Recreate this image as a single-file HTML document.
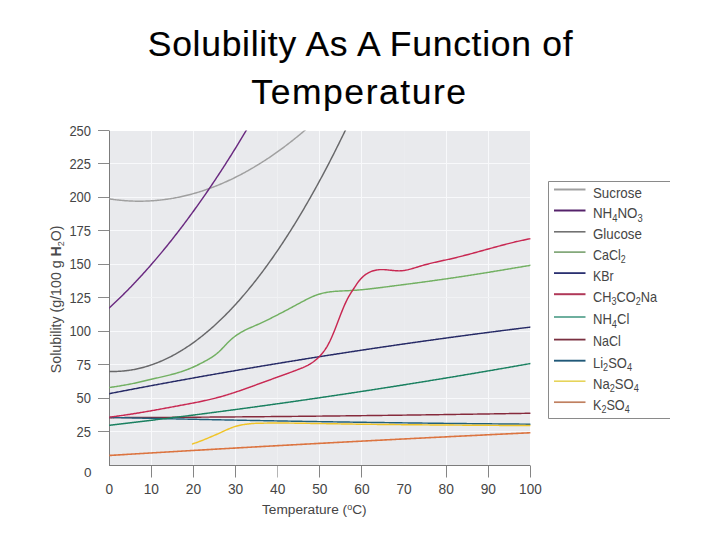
<!DOCTYPE html>
<html><head><meta charset="utf-8"><style>
html,body{margin:0;padding:0;background:#fff;}
body{width:720px;height:540px;position:relative;overflow:hidden;font-family:"Liberation Sans",sans-serif;}
svg{position:absolute;left:0;top:0;}
svg text{font-family:"Liberation Sans",sans-serif;font-size:13.5px;fill:#454545;}
</style></head><body>
<svg width="720" height="540" viewBox="0 0 720 540">
<text x="360.5" y="55.8" text-anchor="middle" style="font-size:35.5px;fill:#000;stroke:#000;stroke-width:0.15px;letter-spacing:0.7px">Solubility As A Function of</text>
<text x="359.5" y="104" text-anchor="middle" style="font-size:35.5px;fill:#000;stroke:#000;stroke-width:0.15px;letter-spacing:1.55px">Temperature</text>
<rect x="109" y="131" width="421" height="334" fill="#e9eaed"/>
<line x1="151.50" y1="131" x2="151.50" y2="465" stroke="#f8f9fb" stroke-width="1"/>
<line x1="193.50" y1="131" x2="193.50" y2="465" stroke="#f8f9fb" stroke-width="1"/>
<line x1="235.50" y1="131" x2="235.50" y2="465" stroke="#f8f9fb" stroke-width="1"/>
<line x1="277.50" y1="131" x2="277.50" y2="465" stroke="#eff0f2" stroke-width="1"/>
<line x1="319.50" y1="131" x2="319.50" y2="465" stroke="#f8f9fb" stroke-width="1"/>
<line x1="361.50" y1="131" x2="361.50" y2="465" stroke="#f8f9fb" stroke-width="1"/>
<line x1="404.50" y1="131" x2="404.50" y2="465" stroke="#ebecef" stroke-width="1"/>
<line x1="446.50" y1="131" x2="446.50" y2="465" stroke="#f8f9fb" stroke-width="1"/>
<line x1="488.50" y1="131" x2="488.50" y2="465" stroke="#f8f9fb" stroke-width="1"/>
<line x1="109" y1="431.50" x2="530" y2="431.50" stroke="#f8f9fb" stroke-width="1"/>
<line x1="109" y1="398.50" x2="530" y2="398.50" stroke="#f8f9fb" stroke-width="1"/>
<line x1="109" y1="364.50" x2="530" y2="364.50" stroke="#f8f9fb" stroke-width="1"/>
<line x1="109" y1="331.50" x2="530" y2="331.50" stroke="#f8f9fb" stroke-width="1"/>
<line x1="109" y1="297.50" x2="530" y2="297.50" stroke="#f1f2f4" stroke-width="1"/>
<line x1="109" y1="264.50" x2="530" y2="264.50" stroke="#f8f9fb" stroke-width="1"/>
<line x1="109" y1="230.50" x2="530" y2="230.50" stroke="#f8f9fb" stroke-width="1"/>
<line x1="109" y1="197.50" x2="530" y2="197.50" stroke="#f8f9fb" stroke-width="1"/>
<line x1="109" y1="163.50" x2="530" y2="163.50" stroke="#f8f9fb" stroke-width="1"/>
<line x1="109.5" y1="130.5" x2="109.5" y2="466" stroke="#7c7c7c" stroke-width="1"/>
<line x1="109" y1="465.5" x2="530.5" y2="465.5" stroke="#7c7c7c" stroke-width="1"/>
<line x1="98" y1="431.50" x2="109" y2="431.50" stroke="#8a8a8a" stroke-width="1"/>
<text x="91" y="436.73" text-anchor="end" style="font-size:14.5px" textLength="14.4" lengthAdjust="spacingAndGlyphs">25</text>
<line x1="98" y1="398.50" x2="109" y2="398.50" stroke="#8a8a8a" stroke-width="1"/>
<text x="91" y="403.26" text-anchor="end" style="font-size:14.5px" textLength="14.4" lengthAdjust="spacingAndGlyphs">50</text>
<line x1="98" y1="364.50" x2="109" y2="364.50" stroke="#8a8a8a" stroke-width="1"/>
<text x="91" y="369.79" text-anchor="end" style="font-size:14.5px" textLength="14.4" lengthAdjust="spacingAndGlyphs">75</text>
<line x1="98" y1="331.50" x2="109" y2="331.50" stroke="#8a8a8a" stroke-width="1"/>
<text x="91" y="336.32" text-anchor="end" style="font-size:14.5px" textLength="21.6" lengthAdjust="spacingAndGlyphs">100</text>
<line x1="98" y1="297.50" x2="109" y2="297.50" stroke="#8a8a8a" stroke-width="1"/>
<text x="91" y="302.85" text-anchor="end" style="font-size:14.5px" textLength="21.6" lengthAdjust="spacingAndGlyphs">125</text>
<line x1="98" y1="264.50" x2="109" y2="264.50" stroke="#8a8a8a" stroke-width="1"/>
<text x="91" y="269.38" text-anchor="end" style="font-size:14.5px" textLength="21.6" lengthAdjust="spacingAndGlyphs">150</text>
<line x1="98" y1="230.50" x2="109" y2="230.50" stroke="#8a8a8a" stroke-width="1"/>
<text x="91" y="235.91" text-anchor="end" style="font-size:14.5px" textLength="21.6" lengthAdjust="spacingAndGlyphs">175</text>
<line x1="98" y1="197.50" x2="109" y2="197.50" stroke="#8a8a8a" stroke-width="1"/>
<text x="91" y="202.44" text-anchor="end" style="font-size:14.5px" textLength="21.6" lengthAdjust="spacingAndGlyphs">200</text>
<line x1="98" y1="163.50" x2="109" y2="163.50" stroke="#8a8a8a" stroke-width="1"/>
<text x="91" y="168.97" text-anchor="end" style="font-size:14.5px" textLength="21.6" lengthAdjust="spacingAndGlyphs">225</text>
<line x1="98" y1="130.50" x2="109" y2="130.50" stroke="#8a8a8a" stroke-width="1"/>
<text x="91" y="135.50" text-anchor="end" style="font-size:14.5px" textLength="21.6" lengthAdjust="spacingAndGlyphs">250</text>
<text x="91.5" y="476.8" text-anchor="end">0</text>
<text x="109.20" y="494.0" text-anchor="middle" style="font-size:14px" textLength="7.6" lengthAdjust="spacingAndGlyphs">0</text>
<line x1="151.50" y1="466" x2="151.50" y2="477.5" stroke="#858585" stroke-width="1"/>
<text x="151.32" y="494.0" text-anchor="middle" style="font-size:14px" textLength="15.3" lengthAdjust="spacingAndGlyphs">10</text>
<line x1="193.50" y1="466" x2="193.50" y2="477.5" stroke="#858585" stroke-width="1"/>
<text x="193.44" y="494.0" text-anchor="middle" style="font-size:14px" textLength="15.3" lengthAdjust="spacingAndGlyphs">20</text>
<line x1="235.50" y1="466" x2="235.50" y2="477.5" stroke="#858585" stroke-width="1"/>
<text x="235.56" y="494.0" text-anchor="middle" style="font-size:14px" textLength="15.3" lengthAdjust="spacingAndGlyphs">30</text>
<line x1="277.50" y1="466" x2="277.50" y2="477.5" stroke="#b5b5b5" stroke-width="1"/>
<text x="277.68" y="494.0" text-anchor="middle" style="font-size:14px" textLength="15.3" lengthAdjust="spacingAndGlyphs">40</text>
<line x1="319.50" y1="466" x2="319.50" y2="477.5" stroke="#858585" stroke-width="1"/>
<text x="319.80" y="494.0" text-anchor="middle" style="font-size:14px" textLength="15.3" lengthAdjust="spacingAndGlyphs">50</text>
<line x1="361.50" y1="466" x2="361.50" y2="477.5" stroke="#858585" stroke-width="1"/>
<text x="361.92" y="494.0" text-anchor="middle" style="font-size:14px" textLength="15.3" lengthAdjust="spacingAndGlyphs">60</text>
<text x="404.04" y="494.0" text-anchor="middle" style="font-size:14px" textLength="15.3" lengthAdjust="spacingAndGlyphs">70</text>
<line x1="446.50" y1="466" x2="446.50" y2="477.5" stroke="#858585" stroke-width="1"/>
<text x="446.16" y="494.0" text-anchor="middle" style="font-size:14px" textLength="15.3" lengthAdjust="spacingAndGlyphs">80</text>
<line x1="488.50" y1="466" x2="488.50" y2="477.5" stroke="#858585" stroke-width="1"/>
<text x="488.28" y="494.0" text-anchor="middle" style="font-size:14px" textLength="15.3" lengthAdjust="spacingAndGlyphs">90</text>
<line x1="530.50" y1="466" x2="530.50" y2="477.5" stroke="#858585" stroke-width="1"/>
<text x="530.40" y="494.0" text-anchor="middle" style="font-size:14px" textLength="22.6" lengthAdjust="spacingAndGlyphs">100</text>
<text x="314.3" y="513.7" text-anchor="middle" style="font-size:13.7px">Temperature (<tspan font-size="9" dy="-4">o</tspan><tspan dy="4">C)</tspan></text>
<text transform="translate(61.0,299.3) rotate(-90)" text-anchor="middle" style="font-size:14.2px;fill:#4a4a4a">Solubility (g/100 g <tspan font-weight="bold">H</tspan><tspan font-size="9" dy="3">2</tspan><tspan dy="-3">O)</tspan></text>
<clipPath id="pc"><rect x="109.20" y="130.50" width="421.20" height="334.70"/></clipPath>
<g clip-path="url(#pc)" fill="none" stroke-linejoin="round" stroke-linecap="round">
<path d="M109.20,198.85 L110.25,199.01 L111.31,199.16 L112.36,199.31 L113.41,199.46 L114.47,199.60 L115.52,199.73 L116.57,199.86 L117.62,199.98 L118.68,200.09 L119.73,200.20 L120.78,200.30 L121.84,200.40 L122.89,200.50 L123.94,200.58 L125.00,200.66 L126.05,200.74 L127.10,200.81 L128.15,200.87 L129.21,200.93 L130.26,200.98 L131.31,201.03 L132.37,201.07 L133.42,201.10 L134.47,201.13 L135.53,201.16 L136.58,201.17 L137.63,201.19 L138.68,201.19 L139.74,201.19 L140.79,201.19 L141.84,201.18 L142.90,201.16 L143.95,201.14 L145.00,201.11 L146.06,201.08 L147.11,201.04 L148.16,200.99 L149.21,200.94 L150.27,200.88 L151.32,200.82 L152.37,200.75 L153.43,200.68 L154.48,200.60 L155.53,200.51 L156.59,200.42 L157.64,200.32 L158.69,200.22 L159.74,200.11 L160.80,200.00 L161.85,199.88 L162.90,199.75 L163.96,199.62 L165.01,199.49 L166.06,199.34 L167.12,199.19 L168.17,199.04 L169.22,198.88 L170.27,198.71 L171.33,198.54 L172.38,198.37 L173.43,198.18 L174.49,197.99 L175.54,197.80 L176.59,197.60 L177.64,197.39 L178.70,197.18 L179.75,196.96 L180.80,196.74 L181.86,196.51 L182.91,196.28 L183.96,196.04 L185.02,195.79 L186.07,195.54 L187.12,195.28 L188.18,195.02 L189.23,194.75 L190.28,194.48 L191.33,194.20 L192.39,193.91 L193.44,193.62 L194.49,193.32 L195.55,193.02 L196.60,192.71 L197.65,192.39 L198.70,192.07 L199.76,191.75 L200.81,191.41 L201.86,191.08 L202.92,190.73 L203.97,190.38 L205.02,190.03 L206.08,189.67 L207.13,189.30 L208.18,188.93 L209.24,188.55 L210.29,188.17 L211.34,187.78 L212.39,187.38 L213.45,186.98 L214.50,186.57 L215.55,186.16 L216.61,185.74 L217.66,185.32 L218.71,184.89 L219.76,184.46 L220.82,184.01 L221.87,183.57 L222.92,183.12 L223.98,182.66 L225.03,182.19 L226.08,181.72 L227.14,181.25 L228.19,180.77 L229.24,180.28 L230.30,179.79 L231.35,179.29 L232.40,178.79 L233.45,178.28 L234.51,177.76 L235.56,177.24 L236.61,176.71 L237.67,176.18 L238.72,175.64 L239.77,175.10 L240.82,174.55 L241.88,173.99 L242.93,173.43 L243.98,172.86 L245.04,172.29 L246.09,171.71 L247.14,171.13 L248.20,170.54 L249.25,169.94 L250.30,169.34 L251.36,168.73 L252.41,168.12 L253.46,167.50 L254.51,166.87 L255.57,166.24 L256.62,165.61 L257.67,164.97 L258.73,164.32 L259.78,163.67 L260.83,163.01 L261.88,162.34 L262.94,161.67 L263.99,161.00 L265.04,160.31 L266.10,159.63 L267.15,158.93 L268.20,158.23 L269.26,157.53 L270.31,156.82 L271.36,156.10 L272.42,155.38 L273.47,154.65 L274.52,153.92 L275.57,153.18 L276.63,152.44 L277.68,151.68 L278.73,150.93 L279.79,150.17 L280.84,149.40 L281.89,148.62 L282.94,147.84 L284.00,147.06 L285.05,146.27 L286.10,145.47 L287.16,144.67 L288.21,143.86 L289.26,143.05 L290.32,142.23 L291.37,141.40 L292.42,140.57 L293.48,139.74 L294.53,138.89 L295.58,138.05 L296.63,137.19 L297.69,136.33 L298.74,135.47 L299.79,134.60 L300.85,133.72 L301.90,132.84 L302.95,131.95 L304.00,131.05 L305.06,130.15 L306.11,129.25 L307.16,128.34 L308.22,127.42 L309.27,126.50 L310.32,125.57 L311.38,124.63 L312.43,123.69 L313.48,122.75 L314.54,121.80 L315.59,120.84 L316.64,119.88 L317.69,118.91 L318.75,117.93 L319.80,116.95" stroke="#a0a0a0" stroke-width="1.45"/>
<path d="M109.20,307.97 L110.25,307.01 L111.31,306.03 L112.36,305.06 L113.41,304.07 L114.47,303.08 L115.52,302.08 L116.57,301.08 L117.62,300.07 L118.68,299.06 L119.73,298.03 L120.78,297.01 L121.84,295.97 L122.89,294.93 L123.94,293.89 L125.00,292.83 L126.05,291.77 L127.10,290.71 L128.15,289.64 L129.21,288.56 L130.26,287.48 L131.31,286.39 L132.37,285.29 L133.42,284.19 L134.47,283.08 L135.53,281.97 L136.58,280.85 L137.63,279.72 L138.68,278.59 L139.74,277.45 L140.79,276.31 L141.84,275.16 L142.90,274.00 L143.95,272.84 L145.00,271.67 L146.06,270.49 L147.11,269.31 L148.16,268.12 L149.21,266.93 L150.27,265.73 L151.32,264.52 L152.37,263.31 L153.43,262.09 L154.48,260.86 L155.53,259.63 L156.59,258.40 L157.64,257.15 L158.69,255.90 L159.74,254.65 L160.80,253.39 L161.85,252.12 L162.90,250.84 L163.96,249.56 L165.01,248.28 L166.06,246.98 L167.12,245.68 L168.17,244.38 L169.22,243.07 L170.27,241.75 L171.33,240.43 L172.38,239.10 L173.43,237.76 L174.49,236.42 L175.54,235.07 L176.59,233.72 L177.64,232.36 L178.70,230.99 L179.75,229.62 L180.80,228.24 L181.86,226.85 L182.91,225.46 L183.96,224.07 L185.02,222.66 L186.07,221.25 L187.12,219.84 L188.18,218.42 L189.23,216.99 L190.28,215.55 L191.33,214.11 L192.39,212.67 L193.44,211.21 L194.49,209.75 L195.55,208.29 L196.60,206.82 L197.65,205.34 L198.70,203.86 L199.76,202.37 L200.81,200.87 L201.86,199.37 L202.92,197.86 L203.97,196.35 L205.02,194.83 L206.08,193.30 L207.13,191.77 L208.18,190.23 L209.24,188.68 L210.29,187.13 L211.34,185.57 L212.39,184.01 L213.45,182.44 L214.50,180.86 L215.55,179.28 L216.61,177.69 L217.66,176.10 L218.71,174.50 L219.76,172.89 L220.82,171.28 L221.87,169.66 L222.92,168.03 L223.98,166.40 L225.03,164.77 L226.08,163.12 L227.14,161.47 L228.19,159.82 L229.24,158.15 L230.30,156.49 L231.35,154.81 L232.40,153.13 L233.45,151.44 L234.51,149.75 L235.56,148.05 L236.61,146.35 L237.67,144.64 L238.72,142.92 L239.77,141.19 L240.82,139.46 L241.88,137.73 L242.93,135.99 L243.98,134.24 L245.04,132.48 L246.09,130.72 L247.14,128.95 L248.20,127.18 L249.25,125.40 L250.30,123.62 L251.36,121.83 L252.41,120.03 L253.46,118.22 L254.51,116.41 L255.57,114.60 L256.62,112.78" stroke="#6a2a80" stroke-width="1.45"/>
<path d="M109.20,371.41 L110.25,371.44 L111.31,371.46 L112.36,371.48 L113.41,371.48 L114.47,371.47 L115.52,371.45 L116.57,371.42 L117.62,371.38 L118.68,371.34 L119.73,371.28 L120.78,371.21 L121.84,371.13 L122.89,371.04 L123.94,370.95 L125.00,370.84 L126.05,370.72 L127.10,370.59 L128.15,370.46 L129.21,370.31 L130.26,370.15 L131.31,369.99 L132.37,369.81 L133.42,369.62 L134.47,369.42 L135.53,369.22 L136.58,369.00 L137.63,368.78 L138.68,368.54 L139.74,368.29 L140.79,368.04 L141.84,367.77 L142.90,367.49 L143.95,367.21 L145.00,366.91 L146.06,366.61 L147.11,366.29 L148.16,365.97 L149.21,365.63 L150.27,365.28 L151.32,364.93 L152.37,364.56 L153.43,364.19 L154.48,363.80 L155.53,363.41 L156.59,363.00 L157.64,362.59 L158.69,362.16 L159.74,361.73 L160.80,361.29 L161.85,360.83 L162.90,360.37 L163.96,359.89 L165.01,359.41 L166.06,358.91 L167.12,358.41 L168.17,357.90 L169.22,357.37 L170.27,356.84 L171.33,356.30 L172.38,355.74 L173.43,355.18 L174.49,354.61 L175.54,354.02 L176.59,353.43 L177.64,352.83 L178.70,352.21 L179.75,351.59 L180.80,350.96 L181.86,350.32 L182.91,349.66 L183.96,349.00 L185.02,348.33 L186.07,347.65 L187.12,346.95 L188.18,346.25 L189.23,345.54 L190.28,344.82 L191.33,344.09 L192.39,343.34 L193.44,342.59 L194.49,341.83 L195.55,341.06 L196.60,340.28 L197.65,339.49 L198.70,338.68 L199.76,337.87 L200.81,337.05 L201.86,336.22 L202.92,335.38 L203.97,334.53 L205.02,333.67 L206.08,332.80 L207.13,331.92 L208.18,331.03 L209.24,330.13 L210.29,329.22 L211.34,328.30 L212.39,327.37 L213.45,326.43 L214.50,325.48 L215.55,324.52 L216.61,323.55 L217.66,322.57 L218.71,321.58 L219.76,320.58 L220.82,319.57 L221.87,318.55 L222.92,317.52 L223.98,316.48 L225.03,315.43 L226.08,314.38 L227.14,313.31 L228.19,312.23 L229.24,311.14 L230.30,310.04 L231.35,308.93 L232.40,307.81 L233.45,306.69 L234.51,305.55 L235.56,304.40 L236.61,303.24 L237.67,302.07 L238.72,300.90 L239.77,299.71 L240.82,298.51 L241.88,297.30 L242.93,296.09 L243.98,294.86 L245.04,293.62 L246.09,292.37 L247.14,291.12 L248.20,289.85 L249.25,288.57 L250.30,287.29 L251.36,285.99 L252.41,284.68 L253.46,283.37 L254.51,282.04 L255.57,280.70 L256.62,279.36 L257.67,278.00 L258.73,276.64 L259.78,275.26 L260.83,273.87 L261.88,272.48 L262.94,271.07 L263.99,269.66 L265.04,268.23 L266.10,266.80 L267.15,265.35 L268.20,263.89 L269.26,262.43 L270.31,260.95 L271.36,259.47 L272.42,257.97 L273.47,256.47 L274.52,254.96 L275.57,253.43 L276.63,251.90 L277.68,250.35 L278.73,248.80 L279.79,247.23 L280.84,245.66 L281.89,244.08 L282.94,242.48 L284.00,240.88 L285.05,239.26 L286.10,237.64 L287.16,236.01 L288.21,234.36 L289.26,232.71 L290.32,231.05 L291.37,229.37 L292.42,227.69 L293.48,226.00 L294.53,224.29 L295.58,222.58 L296.63,220.86 L297.69,219.12 L298.74,217.38 L299.79,215.63 L300.85,213.87 L301.90,212.10 L302.95,210.31 L304.00,208.52 L305.06,206.72 L306.11,204.91 L307.16,203.08 L308.22,201.25 L309.27,199.41 L310.32,197.56 L311.38,195.70 L312.43,193.83 L313.48,191.95 L314.54,190.05 L315.59,188.15 L316.64,186.24 L317.69,184.32 L318.75,182.39 L319.80,180.45 L320.85,178.50 L321.91,176.54 L322.96,174.57 L324.01,172.59 L325.06,170.60 L326.12,168.60 L327.17,166.59 L328.22,164.57 L329.28,162.54 L330.33,160.50 L331.38,158.45 L332.44,156.39 L333.49,154.32 L334.54,152.24 L335.60,150.15 L336.65,148.05 L337.70,145.94 L338.75,143.82 L339.81,141.69 L340.86,139.55 L341.91,137.40 L342.97,135.24 L344.02,133.08 L345.07,130.90 L346.12,128.71 L347.18,126.51 L348.23,124.30 L349.28,122.08 L350.34,119.86 L351.39,117.62 L352.44,115.37 L353.50,113.11 L354.55,110.84 L355.60,108.57 L356.66,106.28 L357.71,103.98 L358.76,101.67 L359.81,99.36 L360.87,97.03 L361.92,94.69" stroke="#68686a" stroke-width="1.45"/>
<path d="M109.20,387.56 L110.25,387.40 L111.31,387.24 L112.36,387.08 L113.41,386.92 L114.47,386.76 L115.52,386.60 L116.57,386.44 L117.62,386.27 L118.68,386.10 L119.73,385.93 L120.78,385.76 L121.84,385.59 L122.89,385.41 L123.94,385.23 L125.00,385.04 L126.05,384.85 L127.10,384.66 L128.15,384.46 L129.21,384.26 L130.26,384.05 L131.31,383.84 L132.37,383.62 L133.42,383.40 L134.47,383.17 L135.53,382.94 L136.58,382.70 L137.63,382.47 L138.68,382.23 L139.74,381.99 L140.79,381.74 L141.84,381.50 L142.90,381.25 L143.95,381.00 L145.00,380.75 L146.06,380.51 L147.11,380.26 L148.16,380.01 L149.21,379.76 L150.27,379.52 L151.32,379.27 L152.37,379.03 L153.43,378.79 L154.48,378.55 L155.53,378.31 L156.59,378.07 L157.64,377.84 L158.69,377.60 L159.74,377.36 L160.80,377.12 L161.85,376.88 L162.90,376.63 L163.96,376.39 L165.01,376.14 L166.06,375.89 L167.12,375.63 L168.17,375.38 L169.22,375.11 L170.27,374.85 L171.33,374.57 L172.38,374.30 L173.43,374.01 L174.49,373.73 L175.54,373.43 L176.59,373.13 L177.64,372.82 L178.70,372.50 L179.75,372.17 L180.80,371.84 L181.86,371.50 L182.91,371.14 L183.96,370.78 L185.02,370.40 L186.07,370.02 L187.12,369.62 L188.18,369.21 L189.23,368.79 L190.28,368.36 L191.33,367.92 L192.39,367.47 L193.44,367.00 L194.49,366.52 L195.55,366.03 L196.60,365.53 L197.65,365.02 L198.70,364.49 L199.76,363.96 L200.81,363.42 L201.86,362.87 L202.92,362.32 L203.97,361.75 L205.02,361.19 L206.08,360.62 L207.13,360.04 L208.18,359.45 L209.24,358.84 L210.29,358.21 L211.34,357.56 L212.39,356.88 L213.45,356.16 L214.50,355.41 L215.55,354.61 L216.61,353.77 L217.66,352.88 L218.71,351.95 L219.76,350.97 L220.82,349.94 L221.87,348.88 L222.92,347.78 L223.98,346.66 L225.03,345.54 L226.08,344.43 L227.14,343.34 L228.19,342.27 L229.24,341.23 L230.30,340.24 L231.35,339.29 L232.40,338.38 L233.45,337.53 L234.51,336.71 L235.56,335.93 L236.61,335.18 L237.67,334.47 L238.72,333.79 L239.77,333.13 L240.82,332.49 L241.88,331.88 L242.93,331.30 L243.98,330.73 L245.04,330.19 L246.09,329.67 L247.14,329.16 L248.20,328.67 L249.25,328.19 L250.30,327.72 L251.36,327.26 L252.41,326.81 L253.46,326.35 L254.51,325.89 L255.57,325.44 L256.62,324.98 L257.67,324.51 L258.73,324.04 L259.78,323.57 L260.83,323.09 L261.88,322.60 L262.94,322.12 L263.99,321.62 L265.04,321.12 L266.10,320.61 L267.15,320.10 L268.20,319.58 L269.26,319.06 L270.31,318.53 L271.36,318.00 L272.42,317.47 L273.47,316.94 L274.52,316.40 L275.57,315.86 L276.63,315.32 L277.68,314.78 L278.73,314.23 L279.79,313.69 L280.84,313.14 L281.89,312.59 L282.94,312.04 L284.00,311.49 L285.05,310.94 L286.10,310.38 L287.16,309.83 L288.21,309.27 L289.26,308.71 L290.32,308.14 L291.37,307.58 L292.42,307.01 L293.48,306.44 L294.53,305.87 L295.58,305.30 L296.63,304.73 L297.69,304.16 L298.74,303.60 L299.79,303.03 L300.85,302.46 L301.90,301.90 L302.95,301.34 L304.00,300.79 L305.06,300.24 L306.11,299.70 L307.16,299.17 L308.22,298.64 L309.27,298.13 L310.32,297.63 L311.38,297.14 L312.43,296.68 L313.48,296.22 L314.54,295.79 L315.59,295.38 L316.64,295.00 L317.69,294.64 L318.75,294.30 L319.80,293.98 L320.85,293.68 L321.91,293.40 L322.96,293.14 L324.01,292.90 L325.06,292.68 L326.12,292.48 L327.17,292.29 L328.22,292.12 L329.28,291.97 L330.33,291.83 L331.38,291.71 L332.44,291.60 L333.49,291.49 L334.54,291.40 L335.60,291.32 L336.65,291.24 L337.70,291.17 L338.75,291.11 L339.81,291.05 L340.86,290.99 L341.91,290.94 L342.97,290.89 L344.02,290.85 L345.07,290.80 L346.12,290.75 L347.18,290.71 L348.23,290.66 L349.28,290.61 L350.34,290.56 L351.39,290.50 L352.44,290.44 L353.50,290.38 L354.55,290.31 L355.60,290.24 L356.66,290.16 L357.71,290.08 L358.76,289.99 L359.81,289.90 L360.87,289.81 L361.92,289.71 L362.97,289.61 L364.03,289.51 L365.08,289.40 L366.13,289.29 L367.19,289.18 L368.24,289.07 L369.29,288.95 L370.34,288.83 L371.40,288.71 L372.45,288.59 L373.50,288.47 L374.56,288.34 L375.61,288.21 L376.66,288.08 L377.71,287.95 L378.77,287.82 L379.82,287.69 L380.87,287.55 L381.93,287.42 L382.98,287.29 L384.03,287.15 L385.09,287.01 L386.14,286.88 L387.19,286.74 L388.25,286.61 L389.30,286.47 L390.35,286.33 L391.40,286.20 L392.46,286.06 L393.51,285.93 L394.56,285.79 L395.62,285.65 L396.67,285.52 L397.72,285.38 L398.77,285.25 L399.83,285.11 L400.88,284.97 L401.93,284.84 L402.99,284.70 L404.04,284.56 L405.09,284.43 L406.15,284.29 L407.20,284.15 L408.25,284.01 L409.31,283.88 L410.36,283.74 L411.41,283.60 L412.46,283.46 L413.52,283.32 L414.57,283.19 L415.62,283.05 L416.68,282.91 L417.73,282.77 L418.78,282.63 L419.83,282.49 L420.89,282.35 L421.94,282.21 L422.99,282.07 L424.05,281.92 L425.10,281.78 L426.15,281.64 L427.21,281.50 L428.26,281.35 L429.31,281.21 L430.37,281.07 L431.42,280.92 L432.47,280.78 L433.52,280.63 L434.58,280.49 L435.63,280.34 L436.68,280.19 L437.74,280.05 L438.79,279.90 L439.84,279.75 L440.89,279.60 L441.95,279.45 L443.00,279.31 L444.05,279.15 L445.11,279.00 L446.16,278.85 L447.21,278.70 L448.27,278.55 L449.32,278.40 L450.37,278.24 L451.43,278.09 L452.48,277.93 L453.53,277.78 L454.58,277.62 L455.64,277.46 L456.69,277.31 L457.74,277.15 L458.80,276.99 L459.85,276.83 L460.90,276.67 L461.95,276.51 L463.01,276.35 L464.06,276.19 L465.11,276.03 L466.17,275.86 L467.22,275.70 L468.27,275.54 L469.33,275.37 L470.38,275.21 L471.43,275.04 L472.49,274.88 L473.54,274.71 L474.59,274.55 L475.64,274.38 L476.70,274.21 L477.75,274.05 L478.80,273.88 L479.86,273.71 L480.91,273.54 L481.96,273.37 L483.01,273.20 L484.07,273.03 L485.12,272.86 L486.17,272.69 L487.23,272.52 L488.28,272.35 L489.33,272.18 L490.39,272.01 L491.44,271.83 L492.49,271.66 L493.55,271.49 L494.60,271.32 L495.65,271.14 L496.70,270.97 L497.76,270.80 L498.81,270.62 L499.86,270.45 L500.92,270.27 L501.97,270.10 L503.02,269.92 L504.07,269.75 L505.13,269.57 L506.18,269.40 L507.23,269.22 L508.29,269.04 L509.34,268.87 L510.39,268.69 L511.45,268.51 L512.50,268.34 L513.55,268.16 L514.61,267.98 L515.66,267.81 L516.71,267.63 L517.76,267.45 L518.82,267.27 L519.87,267.10 L520.92,266.92 L521.98,266.74 L523.03,266.56 L524.08,266.39 L525.13,266.21 L526.19,266.03 L527.24,265.85 L528.29,265.67 L529.35,265.50 L530.40,265.32" stroke="#72b062" stroke-width="1.45"/>
<path d="M109.20,393.67 L110.25,393.46 L111.31,393.26 L112.36,393.06 L113.41,392.85 L114.47,392.65 L115.52,392.45 L116.57,392.24 L117.62,392.04 L118.68,391.84 L119.73,391.64 L120.78,391.44 L121.84,391.23 L122.89,391.03 L123.94,390.83 L125.00,390.63 L126.05,390.43 L127.10,390.23 L128.15,390.03 L129.21,389.83 L130.26,389.63 L131.31,389.43 L132.37,389.23 L133.42,389.03 L134.47,388.83 L135.53,388.63 L136.58,388.43 L137.63,388.23 L138.68,388.03 L139.74,387.83 L140.79,387.64 L141.84,387.44 L142.90,387.24 L143.95,387.04 L145.00,386.84 L146.06,386.65 L147.11,386.45 L148.16,386.25 L149.21,386.06 L150.27,385.86 L151.32,385.66 L152.37,385.47 L153.43,385.27 L154.48,385.07 L155.53,384.88 L156.59,384.68 L157.64,384.49 L158.69,384.29 L159.74,384.10 L160.80,383.90 L161.85,383.71 L162.90,383.51 L163.96,383.32 L165.01,383.13 L166.06,382.93 L167.12,382.74 L168.17,382.54 L169.22,382.35 L170.27,382.16 L171.33,381.97 L172.38,381.77 L173.43,381.58 L174.49,381.39 L175.54,381.20 L176.59,381.00 L177.64,380.81 L178.70,380.62 L179.75,380.43 L180.80,380.24 L181.86,380.05 L182.91,379.86 L183.96,379.67 L185.02,379.48 L186.07,379.29 L187.12,379.10 L188.18,378.91 L189.23,378.72 L190.28,378.53 L191.33,378.34 L192.39,378.15 L193.44,377.96 L194.49,377.77 L195.55,377.58 L196.60,377.39 L197.65,377.20 L198.70,377.02 L199.76,376.83 L200.81,376.64 L201.86,376.45 L202.92,376.27 L203.97,376.08 L205.02,375.89 L206.08,375.71 L207.13,375.52 L208.18,375.33 L209.24,375.15 L210.29,374.96 L211.34,374.78 L212.39,374.59 L213.45,374.40 L214.50,374.22 L215.55,374.03 L216.61,373.85 L217.66,373.66 L218.71,373.48 L219.76,373.30 L220.82,373.11 L221.87,372.93 L222.92,372.74 L223.98,372.56 L225.03,372.38 L226.08,372.19 L227.14,372.01 L228.19,371.83 L229.24,371.65 L230.30,371.46 L231.35,371.28 L232.40,371.10 L233.45,370.92 L234.51,370.74 L235.56,370.55 L236.61,370.37 L237.67,370.19 L238.72,370.01 L239.77,369.83 L240.82,369.65 L241.88,369.47 L242.93,369.29 L243.98,369.11 L245.04,368.93 L246.09,368.75 L247.14,368.57 L248.20,368.39 L249.25,368.21 L250.30,368.03 L251.36,367.85 L252.41,367.68 L253.46,367.50 L254.51,367.32 L255.57,367.14 L256.62,366.96 L257.67,366.79 L258.73,366.61 L259.78,366.43 L260.83,366.25 L261.88,366.08 L262.94,365.90 L263.99,365.73 L265.04,365.55 L266.10,365.37 L267.15,365.20 L268.20,365.02 L269.26,364.85 L270.31,364.67 L271.36,364.50 L272.42,364.32 L273.47,364.15 L274.52,363.97 L275.57,363.80 L276.63,363.62 L277.68,363.45 L278.73,363.27 L279.79,363.10 L280.84,362.93 L281.89,362.75 L282.94,362.58 L284.00,362.41 L285.05,362.24 L286.10,362.06 L287.16,361.89 L288.21,361.72 L289.26,361.55 L290.32,361.38 L291.37,361.20 L292.42,361.03 L293.48,360.86 L294.53,360.69 L295.58,360.52 L296.63,360.35 L297.69,360.18 L298.74,360.01 L299.79,359.84 L300.85,359.67 L301.90,359.50 L302.95,359.33 L304.00,359.16 L305.06,358.99 L306.11,358.82 L307.16,358.65 L308.22,358.48 L309.27,358.32 L310.32,358.15 L311.38,357.98 L312.43,357.81 L313.48,357.64 L314.54,357.48 L315.59,357.31 L316.64,357.14 L317.69,356.98 L318.75,356.81 L319.80,356.64 L320.85,356.48 L321.91,356.31 L322.96,356.14 L324.01,355.98 L325.06,355.81 L326.12,355.65 L327.17,355.48 L328.22,355.32 L329.28,355.15 L330.33,354.99 L331.38,354.82 L332.44,354.66 L333.49,354.50 L334.54,354.33 L335.60,354.17 L336.65,354.00 L337.70,353.84 L338.75,353.68 L339.81,353.51 L340.86,353.35 L341.91,353.19 L342.97,353.03 L344.02,352.87 L345.07,352.70 L346.12,352.54 L347.18,352.38 L348.23,352.22 L349.28,352.06 L350.34,351.90 L351.39,351.73 L352.44,351.57 L353.50,351.41 L354.55,351.25 L355.60,351.09 L356.66,350.93 L357.71,350.77 L358.76,350.61 L359.81,350.45 L360.87,350.30 L361.92,350.14 L362.97,349.98 L364.03,349.82 L365.08,349.66 L366.13,349.50 L367.19,349.34 L368.24,349.19 L369.29,349.03 L370.34,348.87 L371.40,348.71 L372.45,348.56 L373.50,348.40 L374.56,348.24 L375.61,348.09 L376.66,347.93 L377.71,347.77 L378.77,347.62 L379.82,347.46 L380.87,347.31 L381.93,347.15 L382.98,347.00 L384.03,346.84 L385.09,346.69 L386.14,346.53 L387.19,346.38 L388.25,346.22 L389.30,346.07 L390.35,345.91 L391.40,345.76 L392.46,345.61 L393.51,345.45 L394.56,345.30 L395.62,345.15 L396.67,344.99 L397.72,344.84 L398.77,344.69 L399.83,344.54 L400.88,344.38 L401.93,344.23 L402.99,344.08 L404.04,343.93 L405.09,343.78 L406.15,343.63 L407.20,343.48 L408.25,343.32 L409.31,343.17 L410.36,343.02 L411.41,342.87 L412.46,342.72 L413.52,342.57 L414.57,342.42 L415.62,342.27 L416.68,342.13 L417.73,341.98 L418.78,341.83 L419.83,341.68 L420.89,341.53 L421.94,341.38 L422.99,341.23 L424.05,341.09 L425.10,340.94 L426.15,340.79 L427.21,340.64 L428.26,340.50 L429.31,340.35 L430.37,340.20 L431.42,340.06 L432.47,339.91 L433.52,339.76 L434.58,339.62 L435.63,339.47 L436.68,339.32 L437.74,339.18 L438.79,339.03 L439.84,338.89 L440.89,338.74 L441.95,338.60 L443.00,338.45 L444.05,338.31 L445.11,338.17 L446.16,338.02 L447.21,337.88 L448.27,337.73 L449.32,337.59 L450.37,337.45 L451.43,337.30 L452.48,337.16 L453.53,337.02 L454.58,336.88 L455.64,336.73 L456.69,336.59 L457.74,336.45 L458.80,336.31 L459.85,336.17 L460.90,336.02 L461.95,335.88 L463.01,335.74 L464.06,335.60 L465.11,335.46 L466.17,335.32 L467.22,335.18 L468.27,335.04 L469.33,334.90 L470.38,334.76 L471.43,334.62 L472.49,334.48 L473.54,334.34 L474.59,334.20 L475.64,334.06 L476.70,333.93 L477.75,333.79 L478.80,333.65 L479.86,333.51 L480.91,333.37 L481.96,333.24 L483.01,333.10 L484.07,332.96 L485.12,332.82 L486.17,332.69 L487.23,332.55 L488.28,332.41 L489.33,332.28 L490.39,332.14 L491.44,332.00 L492.49,331.87 L493.55,331.73 L494.60,331.60 L495.65,331.46 L496.70,331.33 L497.76,331.19 L498.81,331.06 L499.86,330.92 L500.92,330.79 L501.97,330.65 L503.02,330.52 L504.07,330.39 L505.13,330.25 L506.18,330.12 L507.23,329.99 L508.29,329.85 L509.34,329.72 L510.39,329.59 L511.45,329.46 L512.50,329.32 L513.55,329.19 L514.61,329.06 L515.66,328.93 L516.71,328.80 L517.76,328.67 L518.82,328.53 L519.87,328.40 L520.92,328.27 L521.98,328.14 L523.03,328.01 L524.08,327.88 L525.13,327.75 L526.19,327.62 L527.24,327.49 L528.29,327.36 L529.35,327.23 L530.40,327.10" stroke="#262a66" stroke-width="1.45"/>
<path d="M109.20,417.66 L110.25,417.66 L111.31,417.66 L112.36,417.65 L113.41,417.65 L114.47,417.64 L115.52,417.64 L116.57,417.63 L117.62,417.63 L118.68,417.62 L119.73,417.62 L120.78,417.61 L121.84,417.61 L122.89,417.60 L123.94,417.60 L125.00,417.59 L126.05,417.59 L127.10,417.58 L128.15,417.58 L129.21,417.57 L130.26,417.57 L131.31,417.56 L132.37,417.56 L133.42,417.55 L134.47,417.55 L135.53,417.54 L136.58,417.54 L137.63,417.53 L138.68,417.53 L139.74,417.52 L140.79,417.52 L141.84,417.51 L142.90,417.51 L143.95,417.50 L145.00,417.50 L146.06,417.49 L147.11,417.48 L148.16,417.48 L149.21,417.47 L150.27,417.47 L151.32,417.46 L152.37,417.46 L153.43,417.45 L154.48,417.44 L155.53,417.44 L156.59,417.43 L157.64,417.43 L158.69,417.42 L159.74,417.42 L160.80,417.41 L161.85,417.40 L162.90,417.40 L163.96,417.39 L165.01,417.39 L166.06,417.38 L167.12,417.37 L168.17,417.37 L169.22,417.36 L170.27,417.35 L171.33,417.35 L172.38,417.34 L173.43,417.33 L174.49,417.33 L175.54,417.32 L176.59,417.32 L177.64,417.31 L178.70,417.30 L179.75,417.30 L180.80,417.29 L181.86,417.28 L182.91,417.28 L183.96,417.27 L185.02,417.26 L186.07,417.26 L187.12,417.25 L188.18,417.24 L189.23,417.23 L190.28,417.23 L191.33,417.22 L192.39,417.21 L193.44,417.21 L194.49,417.20 L195.55,417.19 L196.60,417.19 L197.65,417.18 L198.70,417.17 L199.76,417.16 L200.81,417.16 L201.86,417.15 L202.92,417.14 L203.97,417.13 L205.02,417.13 L206.08,417.12 L207.13,417.11 L208.18,417.11 L209.24,417.10 L210.29,417.09 L211.34,417.08 L212.39,417.07 L213.45,417.07 L214.50,417.06 L215.55,417.05 L216.61,417.04 L217.66,417.04 L218.71,417.03 L219.76,417.02 L220.82,417.01 L221.87,417.00 L222.92,417.00 L223.98,416.99 L225.03,416.98 L226.08,416.97 L227.14,416.96 L228.19,416.96 L229.24,416.95 L230.30,416.94 L231.35,416.93 L232.40,416.92 L233.45,416.92 L234.51,416.91 L235.56,416.90 L236.61,416.89 L237.67,416.88 L238.72,416.87 L239.77,416.86 L240.82,416.86 L241.88,416.85 L242.93,416.84 L243.98,416.83 L245.04,416.82 L246.09,416.81 L247.14,416.80 L248.20,416.80 L249.25,416.79 L250.30,416.78 L251.36,416.77 L252.41,416.76 L253.46,416.75 L254.51,416.74 L255.57,416.73 L256.62,416.72 L257.67,416.72 L258.73,416.71 L259.78,416.70 L260.83,416.69 L261.88,416.68 L262.94,416.67 L263.99,416.66 L265.04,416.65 L266.10,416.64 L267.15,416.63 L268.20,416.62 L269.26,416.61 L270.31,416.60 L271.36,416.59 L272.42,416.58 L273.47,416.58 L274.52,416.57 L275.57,416.56 L276.63,416.55 L277.68,416.54 L278.73,416.53 L279.79,416.52 L280.84,416.51 L281.89,416.50 L282.94,416.49 L284.00,416.48 L285.05,416.47 L286.10,416.46 L287.16,416.45 L288.21,416.44 L289.26,416.43 L290.32,416.42 L291.37,416.41 L292.42,416.40 L293.48,416.39 L294.53,416.38 L295.58,416.37 L296.63,416.36 L297.69,416.35 L298.74,416.34 L299.79,416.33 L300.85,416.32 L301.90,416.30 L302.95,416.29 L304.00,416.28 L305.06,416.27 L306.11,416.26 L307.16,416.25 L308.22,416.24 L309.27,416.23 L310.32,416.22 L311.38,416.21 L312.43,416.20 L313.48,416.19 L314.54,416.18 L315.59,416.17 L316.64,416.15 L317.69,416.14 L318.75,416.13 L319.80,416.12 L320.85,416.11 L321.91,416.10 L322.96,416.09 L324.01,416.08 L325.06,416.07 L326.12,416.05 L327.17,416.04 L328.22,416.03 L329.28,416.02 L330.33,416.01 L331.38,416.00 L332.44,415.99 L333.49,415.98 L334.54,415.96 L335.60,415.95 L336.65,415.94 L337.70,415.93 L338.75,415.92 L339.81,415.91 L340.86,415.89 L341.91,415.88 L342.97,415.87 L344.02,415.86 L345.07,415.85 L346.12,415.84 L347.18,415.82 L348.23,415.81 L349.28,415.80 L350.34,415.79 L351.39,415.78 L352.44,415.76 L353.50,415.75 L354.55,415.74 L355.60,415.73 L356.66,415.71 L357.71,415.70 L358.76,415.69 L359.81,415.68 L360.87,415.67 L361.92,415.65 L362.97,415.64 L364.03,415.63 L365.08,415.62 L366.13,415.60 L367.19,415.59 L368.24,415.58 L369.29,415.57 L370.34,415.55 L371.40,415.54 L372.45,415.53 L373.50,415.52 L374.56,415.50 L375.61,415.49 L376.66,415.48 L377.71,415.46 L378.77,415.45 L379.82,415.44 L380.87,415.43 L381.93,415.41 L382.98,415.40 L384.03,415.39 L385.09,415.37 L386.14,415.36 L387.19,415.35 L388.25,415.33 L389.30,415.32 L390.35,415.31 L391.40,415.29 L392.46,415.28 L393.51,415.27 L394.56,415.25 L395.62,415.24 L396.67,415.23 L397.72,415.21 L398.77,415.20 L399.83,415.19 L400.88,415.17 L401.93,415.16 L402.99,415.15 L404.04,415.13 L405.09,415.12 L406.15,415.10 L407.20,415.09 L408.25,415.08 L409.31,415.06 L410.36,415.05 L411.41,415.03 L412.46,415.02 L413.52,415.01 L414.57,414.99 L415.62,414.98 L416.68,414.96 L417.73,414.95 L418.78,414.94 L419.83,414.92 L420.89,414.91 L421.94,414.89 L422.99,414.88 L424.05,414.87 L425.10,414.85 L426.15,414.84 L427.21,414.82 L428.26,414.81 L429.31,414.79 L430.37,414.78 L431.42,414.76 L432.47,414.75 L433.52,414.73 L434.58,414.72 L435.63,414.71 L436.68,414.69 L437.74,414.68 L438.79,414.66 L439.84,414.65 L440.89,414.63 L441.95,414.62 L443.00,414.60 L444.05,414.59 L445.11,414.57 L446.16,414.56 L447.21,414.54 L448.27,414.53 L449.32,414.51 L450.37,414.50 L451.43,414.48 L452.48,414.47 L453.53,414.45 L454.58,414.44 L455.64,414.42 L456.69,414.40 L457.74,414.39 L458.80,414.37 L459.85,414.36 L460.90,414.34 L461.95,414.33 L463.01,414.31 L464.06,414.30 L465.11,414.28 L466.17,414.26 L467.22,414.25 L468.27,414.23 L469.33,414.22 L470.38,414.20 L471.43,414.19 L472.49,414.17 L473.54,414.15 L474.59,414.14 L475.64,414.12 L476.70,414.11 L477.75,414.09 L478.80,414.07 L479.86,414.06 L480.91,414.04 L481.96,414.03 L483.01,414.01 L484.07,413.99 L485.12,413.98 L486.17,413.96 L487.23,413.94 L488.28,413.93 L489.33,413.91 L490.39,413.90 L491.44,413.88 L492.49,413.86 L493.55,413.85 L494.60,413.83 L495.65,413.81 L496.70,413.80 L497.76,413.78 L498.81,413.76 L499.86,413.75 L500.92,413.73 L501.97,413.71 L503.02,413.70 L504.07,413.68 L505.13,413.66 L506.18,413.65 L507.23,413.63 L508.29,413.61 L509.34,413.59 L510.39,413.58 L511.45,413.56 L512.50,413.54 L513.55,413.53 L514.61,413.51 L515.66,413.49 L516.71,413.47 L517.76,413.46 L518.82,413.44 L519.87,413.42 L520.92,413.41 L521.98,413.39 L523.03,413.37 L524.08,413.35 L525.13,413.34 L526.19,413.32 L527.24,413.30 L528.29,413.28 L529.35,413.26 L530.40,413.25" stroke="#862a3c" stroke-width="1.45"/>
<path d="M109.20,417.37 L110.25,417.39 L111.31,417.42 L112.36,417.44 L113.41,417.47 L114.47,417.49 L115.52,417.52 L116.57,417.54 L117.62,417.57 L118.68,417.60 L119.73,417.62 L120.78,417.65 L121.84,417.67 L122.89,417.70 L123.94,417.72 L125.00,417.75 L126.05,417.77 L127.10,417.80 L128.15,417.82 L129.21,417.85 L130.26,417.87 L131.31,417.89 L132.37,417.92 L133.42,417.94 L134.47,417.97 L135.53,417.99 L136.58,418.02 L137.63,418.04 L138.68,418.07 L139.74,418.09 L140.79,418.12 L141.84,418.14 L142.90,418.16 L143.95,418.19 L145.00,418.21 L146.06,418.24 L147.11,418.26 L148.16,418.28 L149.21,418.31 L150.27,418.33 L151.32,418.36 L152.37,418.38 L153.43,418.40 L154.48,418.43 L155.53,418.45 L156.59,418.48 L157.64,418.50 L158.69,418.52 L159.74,418.55 L160.80,418.57 L161.85,418.59 L162.90,418.62 L163.96,418.64 L165.01,418.66 L166.06,418.69 L167.12,418.71 L168.17,418.73 L169.22,418.76 L170.27,418.78 L171.33,418.80 L172.38,418.83 L173.43,418.85 L174.49,418.87 L175.54,418.89 L176.59,418.92 L177.64,418.94 L178.70,418.96 L179.75,418.99 L180.80,419.01 L181.86,419.03 L182.91,419.05 L183.96,419.08 L185.02,419.10 L186.07,419.12 L187.12,419.14 L188.18,419.17 L189.23,419.19 L190.28,419.21 L191.33,419.23 L192.39,419.26 L193.44,419.28 L194.49,419.30 L195.55,419.32 L196.60,419.34 L197.65,419.37 L198.70,419.39 L199.76,419.41 L200.81,419.43 L201.86,419.45 L202.92,419.48 L203.97,419.50 L205.02,419.52 L206.08,419.54 L207.13,419.56 L208.18,419.58 L209.24,419.61 L210.29,419.63 L211.34,419.65 L212.39,419.67 L213.45,419.69 L214.50,419.71 L215.55,419.73 L216.61,419.75 L217.66,419.78 L218.71,419.80 L219.76,419.82 L220.82,419.84 L221.87,419.86 L222.92,419.88 L223.98,419.90 L225.03,419.92 L226.08,419.94 L227.14,419.97 L228.19,419.99 L229.24,420.01 L230.30,420.03 L231.35,420.05 L232.40,420.07 L233.45,420.09 L234.51,420.11 L235.56,420.13 L236.61,420.15 L237.67,420.17 L238.72,420.19 L239.77,420.21 L240.82,420.23 L241.88,420.25 L242.93,420.27 L243.98,420.29 L245.04,420.31 L246.09,420.33 L247.14,420.35 L248.20,420.37 L249.25,420.39 L250.30,420.41 L251.36,420.43 L252.41,420.45 L253.46,420.47 L254.51,420.49 L255.57,420.51 L256.62,420.53 L257.67,420.55 L258.73,420.57 L259.78,420.59 L260.83,420.61 L261.88,420.63 L262.94,420.65 L263.99,420.67 L265.04,420.69 L266.10,420.71 L267.15,420.73 L268.20,420.74 L269.26,420.76 L270.31,420.78 L271.36,420.80 L272.42,420.82 L273.47,420.84 L274.52,420.86 L275.57,420.88 L276.63,420.90 L277.68,420.92 L278.73,420.93 L279.79,420.95 L280.84,420.97 L281.89,420.99 L282.94,421.01 L284.00,421.03 L285.05,421.05 L286.10,421.06 L287.16,421.08 L288.21,421.10 L289.26,421.12 L290.32,421.14 L291.37,421.16 L292.42,421.17 L293.48,421.19 L294.53,421.21 L295.58,421.23 L296.63,421.25 L297.69,421.26 L298.74,421.28 L299.79,421.30 L300.85,421.32 L301.90,421.34 L302.95,421.35 L304.00,421.37 L305.06,421.39 L306.11,421.41 L307.16,421.42 L308.22,421.44 L309.27,421.46 L310.32,421.48 L311.38,421.49 L312.43,421.51 L313.48,421.53 L314.54,421.55 L315.59,421.56 L316.64,421.58 L317.69,421.60 L318.75,421.61 L319.80,421.63 L320.85,421.65 L321.91,421.67 L322.96,421.68 L324.01,421.70 L325.06,421.72 L326.12,421.73 L327.17,421.75 L328.22,421.77 L329.28,421.78 L330.33,421.80 L331.38,421.82 L332.44,421.83 L333.49,421.85 L334.54,421.87 L335.60,421.88 L336.65,421.90 L337.70,421.92 L338.75,421.93 L339.81,421.95 L340.86,421.96 L341.91,421.98 L342.97,422.00 L344.02,422.01 L345.07,422.03 L346.12,422.04 L347.18,422.06 L348.23,422.08 L349.28,422.09 L350.34,422.11 L351.39,422.12 L352.44,422.14 L353.50,422.16 L354.55,422.17 L355.60,422.19 L356.66,422.20 L357.71,422.22 L358.76,422.23 L359.81,422.25 L360.87,422.26 L361.92,422.28 L362.97,422.29 L364.03,422.31 L365.08,422.33 L366.13,422.34 L367.19,422.36 L368.24,422.37 L369.29,422.39 L370.34,422.40 L371.40,422.42 L372.45,422.43 L373.50,422.45 L374.56,422.46 L375.61,422.48 L376.66,422.49 L377.71,422.51 L378.77,422.52 L379.82,422.53 L380.87,422.55 L381.93,422.56 L382.98,422.58 L384.03,422.59 L385.09,422.61 L386.14,422.62 L387.19,422.64 L388.25,422.65 L389.30,422.66 L390.35,422.68 L391.40,422.69 L392.46,422.71 L393.51,422.72 L394.56,422.73 L395.62,422.75 L396.67,422.76 L397.72,422.78 L398.77,422.79 L399.83,422.80 L400.88,422.82 L401.93,422.83 L402.99,422.85 L404.04,422.86 L405.09,422.87 L406.15,422.89 L407.20,422.90 L408.25,422.91 L409.31,422.93 L410.36,422.94 L411.41,422.95 L412.46,422.97 L413.52,422.98 L414.57,422.99 L415.62,423.01 L416.68,423.02 L417.73,423.03 L418.78,423.05 L419.83,423.06 L420.89,423.07 L421.94,423.09 L422.99,423.10 L424.05,423.11 L425.10,423.12 L426.15,423.14 L427.21,423.15 L428.26,423.16 L429.31,423.17 L430.37,423.19 L431.42,423.20 L432.47,423.21 L433.52,423.22 L434.58,423.24 L435.63,423.25 L436.68,423.26 L437.74,423.27 L438.79,423.29 L439.84,423.30 L440.89,423.31 L441.95,423.32 L443.00,423.34 L444.05,423.35 L445.11,423.36 L446.16,423.37 L447.21,423.38 L448.27,423.39 L449.32,423.41 L450.37,423.42 L451.43,423.43 L452.48,423.44 L453.53,423.45 L454.58,423.47 L455.64,423.48 L456.69,423.49 L457.74,423.50 L458.80,423.51 L459.85,423.52 L460.90,423.53 L461.95,423.55 L463.01,423.56 L464.06,423.57 L465.11,423.58 L466.17,423.59 L467.22,423.60 L468.27,423.61 L469.33,423.62 L470.38,423.63 L471.43,423.65 L472.49,423.66 L473.54,423.67 L474.59,423.68 L475.64,423.69 L476.70,423.70 L477.75,423.71 L478.80,423.72 L479.86,423.73 L480.91,423.74 L481.96,423.75 L483.01,423.76 L484.07,423.77 L485.12,423.78 L486.17,423.79 L487.23,423.80 L488.28,423.81 L489.33,423.82 L490.39,423.83 L491.44,423.84 L492.49,423.85 L493.55,423.86 L494.60,423.87 L495.65,423.88 L496.70,423.89 L497.76,423.90 L498.81,423.91 L499.86,423.92 L500.92,423.93 L501.97,423.94 L503.02,423.95 L504.07,423.96 L505.13,423.97 L506.18,423.98 L507.23,423.99 L508.29,424.00 L509.34,424.01 L510.39,424.02 L511.45,424.03 L512.50,424.04 L513.55,424.05 L514.61,424.06 L515.66,424.07 L516.71,424.07 L517.76,424.08 L518.82,424.09 L519.87,424.10 L520.92,424.11 L521.98,424.12 L523.03,424.13 L524.08,424.14 L525.13,424.15 L526.19,424.15 L527.24,424.16 L528.29,424.17 L529.35,424.18 L530.40,424.19" stroke="#20607c" stroke-width="1.45"/>
<path d="M192.60,443.91 L193.65,443.56 L194.71,443.19 L195.76,442.82 L196.82,442.45 L197.88,442.07 L198.93,441.68 L199.99,441.28 L201.04,440.88 L202.10,440.48 L203.15,440.06 L204.21,439.63 L205.27,439.20 L206.32,438.76 L207.38,438.32 L208.43,437.87 L209.49,437.42 L210.54,436.98 L211.60,436.53 L212.65,436.09 L213.71,435.64 L214.77,435.19 L215.82,434.74 L216.88,434.28 L217.93,433.82 L218.99,433.35 L220.04,432.86 L221.10,432.37 L222.16,431.87 L223.21,431.36 L224.27,430.87 L225.32,430.38 L226.38,429.91 L227.43,429.46 L228.49,429.02 L229.54,428.58 L230.60,428.14 L231.66,427.72 L232.71,427.31 L233.77,426.94 L234.82,426.59 L235.88,426.29 L236.93,426.00 L237.99,425.72 L239.05,425.46 L240.10,425.21 L241.16,424.99 L242.21,424.78 L243.27,424.61 L244.32,424.45 L245.38,424.31 L246.43,424.17 L247.49,424.04 L248.55,423.91 L249.60,423.79 L250.66,423.68 L251.71,423.58 L252.77,423.50 L253.82,423.42 L254.88,423.36 L255.94,423.32 L256.99,423.29 L258.05,423.26 L259.10,423.24 L260.16,423.22 L261.21,423.20 L262.27,423.18 L263.32,423.16 L264.38,423.14 L265.44,423.12 L266.49,423.11 L267.55,423.09 L268.60,423.08 L269.66,423.07 L270.71,423.06 L271.77,423.05 L272.83,423.04 L273.88,423.04 L274.94,423.03 L275.99,423.03 L277.05,423.03 L278.10,423.03 L279.16,423.03 L280.22,423.03 L281.27,423.03 L282.33,423.04 L283.38,423.05 L284.44,423.05 L285.49,423.06 L286.55,423.07 L287.60,423.08 L288.66,423.09 L289.72,423.10 L290.77,423.11 L291.83,423.12 L292.88,423.14 L293.94,423.15 L294.99,423.17 L296.05,423.18 L297.11,423.20 L298.16,423.21 L299.22,423.23 L300.27,423.25 L301.33,423.26 L302.38,423.28 L303.44,423.30 L304.49,423.31 L305.55,423.33 L306.61,423.35 L307.66,423.37 L308.72,423.39 L309.77,423.40 L310.83,423.42 L311.88,423.44 L312.94,423.46 L314.00,423.47 L315.05,423.49 L316.11,423.51 L317.16,423.52 L318.22,423.54 L319.27,423.56 L320.33,423.57 L321.38,423.59 L322.44,423.60 L323.50,423.62 L324.55,423.63 L325.61,423.65 L326.66,423.67 L327.72,423.68 L328.77,423.70 L329.83,423.72 L330.89,423.74 L331.94,423.75 L333.00,423.77 L334.05,423.79 L335.11,423.81 L336.16,423.83 L337.22,423.84 L338.27,423.86 L339.33,423.88 L340.39,423.90 L341.44,423.92 L342.50,423.94 L343.55,423.95 L344.61,423.97 L345.66,423.99 L346.72,424.01 L347.78,424.03 L348.83,424.04 L349.89,424.06 L350.94,424.08 L352.00,424.09 L353.05,424.11 L354.11,424.13 L355.17,424.14 L356.22,424.16 L357.28,424.17 L358.33,424.19 L359.39,424.20 L360.44,424.21 L361.50,424.23 L362.55,424.24 L363.61,424.25 L364.67,424.27 L365.72,424.28 L366.78,424.29 L367.83,424.30 L368.89,424.32 L369.94,424.33 L371.00,424.34 L372.06,424.35 L373.11,424.36 L374.17,424.38 L375.22,424.39 L376.28,424.40 L377.33,424.41 L378.39,424.42 L379.44,424.44 L380.50,424.45 L381.56,424.46 L382.61,424.47 L383.67,424.48 L384.72,424.49 L385.78,424.50 L386.83,424.51 L387.89,424.52 L388.95,424.54 L390.00,424.55 L391.06,424.56 L392.11,424.57 L393.17,424.58 L394.22,424.59 L395.28,424.60 L396.33,424.61 L397.39,424.62 L398.45,424.63 L399.50,424.64 L400.56,424.65 L401.61,424.66 L402.67,424.67 L403.72,424.68 L404.78,424.69 L405.84,424.70 L406.89,424.71 L407.95,424.72 L409.00,424.73 L410.06,424.74 L411.11,424.75 L412.17,424.76 L413.22,424.77 L414.28,424.78 L415.34,424.79 L416.39,424.79 L417.45,424.80 L418.50,424.81 L419.56,424.82 L420.61,424.83 L421.67,424.84 L422.73,424.85 L423.78,424.86 L424.84,424.87 L425.89,424.88 L426.95,424.88 L428.00,424.89 L429.06,424.90 L430.11,424.91 L431.17,424.92 L432.23,424.93 L433.28,424.94 L434.34,424.94 L435.39,424.95 L436.45,424.96 L437.50,424.97 L438.56,424.98 L439.62,424.99 L440.67,424.99 L441.73,425.00 L442.78,425.01 L443.84,425.02 L444.89,425.03 L445.95,425.03 L447.01,425.04 L448.06,425.05 L449.12,425.06 L450.17,425.07 L451.23,425.07 L452.28,425.08 L453.34,425.09 L454.39,425.10 L455.45,425.11 L456.51,425.11 L457.56,425.12 L458.62,425.13 L459.67,425.14 L460.73,425.14 L461.78,425.15 L462.84,425.16 L463.90,425.17 L464.95,425.18 L466.01,425.18 L467.06,425.19 L468.12,425.20 L469.17,425.21 L470.23,425.21 L471.28,425.22 L472.34,425.23 L473.40,425.23 L474.45,425.24 L475.51,425.25 L476.56,425.26 L477.62,425.26 L478.67,425.27 L479.73,425.28 L480.79,425.28 L481.84,425.29 L482.90,425.30 L483.95,425.31 L485.01,425.31 L486.06,425.32 L487.12,425.33 L488.17,425.33 L489.23,425.34 L490.29,425.35 L491.34,425.35 L492.40,425.36 L493.45,425.37 L494.51,425.37 L495.56,425.38 L496.62,425.39 L497.68,425.39 L498.73,425.40 L499.79,425.41 L500.84,425.41 L501.90,425.42 L502.95,425.42 L504.01,425.43 L505.06,425.44 L506.12,425.44 L507.18,425.45 L508.23,425.46 L509.29,425.46 L510.34,425.47 L511.40,425.47 L512.45,425.48 L513.51,425.48 L514.57,425.49 L515.62,425.50 L516.68,425.50 L517.73,425.51 L518.79,425.51 L519.84,425.52 L520.90,425.52 L521.95,425.53 L523.01,425.54 L524.07,425.54 L525.12,425.55 L526.18,425.55 L527.23,425.56 L528.29,425.56 L529.34,425.57 L530.40,425.57" stroke="#f0c428" stroke-width="1.45"/>
<path d="M109.20,455.47 L110.25,455.41 L111.31,455.35 L112.36,455.28 L113.41,455.22 L114.47,455.15 L115.52,455.09 L116.57,455.02 L117.62,454.96 L118.68,454.90 L119.73,454.83 L120.78,454.77 L121.84,454.70 L122.89,454.64 L123.94,454.58 L125.00,454.51 L126.05,454.45 L127.10,454.38 L128.15,454.32 L129.21,454.26 L130.26,454.19 L131.31,454.13 L132.37,454.07 L133.42,454.00 L134.47,453.94 L135.53,453.88 L136.58,453.81 L137.63,453.75 L138.68,453.69 L139.74,453.62 L140.79,453.56 L141.84,453.50 L142.90,453.43 L143.95,453.37 L145.00,453.31 L146.06,453.24 L147.11,453.18 L148.16,453.12 L149.21,453.06 L150.27,452.99 L151.32,452.93 L152.37,452.87 L153.43,452.80 L154.48,452.74 L155.53,452.68 L156.59,452.62 L157.64,452.55 L158.69,452.49 L159.74,452.43 L160.80,452.37 L161.85,452.30 L162.90,452.24 L163.96,452.18 L165.01,452.12 L166.06,452.05 L167.12,451.99 L168.17,451.93 L169.22,451.87 L170.27,451.80 L171.33,451.74 L172.38,451.68 L173.43,451.62 L174.49,451.56 L175.54,451.49 L176.59,451.43 L177.64,451.37 L178.70,451.31 L179.75,451.25 L180.80,451.18 L181.86,451.12 L182.91,451.06 L183.96,451.00 L185.02,450.94 L186.07,450.88 L187.12,450.81 L188.18,450.75 L189.23,450.69 L190.28,450.63 L191.33,450.57 L192.39,450.51 L193.44,450.45 L194.49,450.38 L195.55,450.32 L196.60,450.26 L197.65,450.20 L198.70,450.14 L199.76,450.08 L200.81,450.02 L201.86,449.96 L202.92,449.90 L203.97,449.83 L205.02,449.77 L206.08,449.71 L207.13,449.65 L208.18,449.59 L209.24,449.53 L210.29,449.47 L211.34,449.41 L212.39,449.35 L213.45,449.29 L214.50,449.23 L215.55,449.17 L216.61,449.11 L217.66,449.05 L218.71,448.98 L219.76,448.92 L220.82,448.86 L221.87,448.80 L222.92,448.74 L223.98,448.68 L225.03,448.62 L226.08,448.56 L227.14,448.50 L228.19,448.44 L229.24,448.38 L230.30,448.32 L231.35,448.26 L232.40,448.20 L233.45,448.14 L234.51,448.08 L235.56,448.02 L236.61,447.96 L237.67,447.90 L238.72,447.84 L239.77,447.78 L240.82,447.72 L241.88,447.67 L242.93,447.61 L243.98,447.55 L245.04,447.49 L246.09,447.43 L247.14,447.37 L248.20,447.31 L249.25,447.25 L250.30,447.19 L251.36,447.13 L252.41,447.07 L253.46,447.01 L254.51,446.95 L255.57,446.89 L256.62,446.83 L257.67,446.78 L258.73,446.72 L259.78,446.66 L260.83,446.60 L261.88,446.54 L262.94,446.48 L263.99,446.42 L265.04,446.36 L266.10,446.31 L267.15,446.25 L268.20,446.19 L269.26,446.13 L270.31,446.07 L271.36,446.01 L272.42,445.95 L273.47,445.90 L274.52,445.84 L275.57,445.78 L276.63,445.72 L277.68,445.66 L278.73,445.60 L279.79,445.55 L280.84,445.49 L281.89,445.43 L282.94,445.37 L284.00,445.31 L285.05,445.25 L286.10,445.20 L287.16,445.14 L288.21,445.08 L289.26,445.02 L290.32,444.97 L291.37,444.91 L292.42,444.85 L293.48,444.79 L294.53,444.73 L295.58,444.68 L296.63,444.62 L297.69,444.56 L298.74,444.50 L299.79,444.45 L300.85,444.39 L301.90,444.33 L302.95,444.27 L304.00,444.22 L305.06,444.16 L306.11,444.10 L307.16,444.05 L308.22,443.99 L309.27,443.93 L310.32,443.87 L311.38,443.82 L312.43,443.76 L313.48,443.70 L314.54,443.65 L315.59,443.59 L316.64,443.53 L317.69,443.48 L318.75,443.42 L319.80,443.36 L320.85,443.30 L321.91,443.25 L322.96,443.19 L324.01,443.13 L325.06,443.08 L326.12,443.02 L327.17,442.97 L328.22,442.91 L329.28,442.85 L330.33,442.80 L331.38,442.74 L332.44,442.68 L333.49,442.63 L334.54,442.57 L335.60,442.51 L336.65,442.46 L337.70,442.40 L338.75,442.35 L339.81,442.29 L340.86,442.23 L341.91,442.18 L342.97,442.12 L344.02,442.07 L345.07,442.01 L346.12,441.95 L347.18,441.90 L348.23,441.84 L349.28,441.79 L350.34,441.73 L351.39,441.68 L352.44,441.62 L353.50,441.57 L354.55,441.51 L355.60,441.45 L356.66,441.40 L357.71,441.34 L358.76,441.29 L359.81,441.23 L360.87,441.18 L361.92,441.12 L362.97,441.07 L364.03,441.01 L365.08,440.96 L366.13,440.90 L367.19,440.85 L368.24,440.79 L369.29,440.74 L370.34,440.68 L371.40,440.63 L372.45,440.57 L373.50,440.52 L374.56,440.46 L375.61,440.41 L376.66,440.35 L377.71,440.30 L378.77,440.24 L379.82,440.19 L380.87,440.13 L381.93,440.08 L382.98,440.03 L384.03,439.97 L385.09,439.92 L386.14,439.86 L387.19,439.81 L388.25,439.75 L389.30,439.70 L390.35,439.65 L391.40,439.59 L392.46,439.54 L393.51,439.48 L394.56,439.43 L395.62,439.37 L396.67,439.32 L397.72,439.27 L398.77,439.21 L399.83,439.16 L400.88,439.11 L401.93,439.05 L402.99,439.00 L404.04,438.94 L405.09,438.89 L406.15,438.84 L407.20,438.78 L408.25,438.73 L409.31,438.68 L410.36,438.62 L411.41,438.57 L412.46,438.52 L413.52,438.46 L414.57,438.41 L415.62,438.36 L416.68,438.30 L417.73,438.25 L418.78,438.20 L419.83,438.14 L420.89,438.09 L421.94,438.04 L422.99,437.98 L424.05,437.93 L425.10,437.88 L426.15,437.82 L427.21,437.77 L428.26,437.72 L429.31,437.67 L430.37,437.61 L431.42,437.56 L432.47,437.51 L433.52,437.46 L434.58,437.40 L435.63,437.35 L436.68,437.30 L437.74,437.25 L438.79,437.19 L439.84,437.14 L440.89,437.09 L441.95,437.04 L443.00,436.98 L444.05,436.93 L445.11,436.88 L446.16,436.83 L447.21,436.77 L448.27,436.72 L449.32,436.67 L450.37,436.62 L451.43,436.57 L452.48,436.51 L453.53,436.46 L454.58,436.41 L455.64,436.36 L456.69,436.31 L457.74,436.26 L458.80,436.20 L459.85,436.15 L460.90,436.10 L461.95,436.05 L463.01,436.00 L464.06,435.95 L465.11,435.89 L466.17,435.84 L467.22,435.79 L468.27,435.74 L469.33,435.69 L470.38,435.64 L471.43,435.59 L472.49,435.53 L473.54,435.48 L474.59,435.43 L475.64,435.38 L476.70,435.33 L477.75,435.28 L478.80,435.23 L479.86,435.18 L480.91,435.13 L481.96,435.08 L483.01,435.02 L484.07,434.97 L485.12,434.92 L486.17,434.87 L487.23,434.82 L488.28,434.77 L489.33,434.72 L490.39,434.67 L491.44,434.62 L492.49,434.57 L493.55,434.52 L494.60,434.47 L495.65,434.42 L496.70,434.37 L497.76,434.32 L498.81,434.27 L499.86,434.22 L500.92,434.17 L501.97,434.12 L503.02,434.07 L504.07,434.02 L505.13,433.97 L506.18,433.92 L507.23,433.87 L508.29,433.82 L509.34,433.77 L510.39,433.72 L511.45,433.67 L512.50,433.62 L513.55,433.57 L514.61,433.52 L515.66,433.47 L516.71,433.42 L517.76,433.37 L518.82,433.32 L519.87,433.27 L520.92,433.22 L521.98,433.17 L523.03,433.12 L524.08,433.07 L525.13,433.02 L526.19,432.97 L527.24,432.92 L528.29,432.87 L529.35,432.82 L530.40,432.78" stroke="#dc7440" stroke-width="1.6"/>
<path d="M109.20,425.28 L110.25,425.16 L111.31,425.04 L112.36,424.92 L113.41,424.80 L114.47,424.67 L115.52,424.55 L116.57,424.43 L117.62,424.31 L118.68,424.18 L119.73,424.06 L120.78,423.94 L121.84,423.81 L122.89,423.69 L123.94,423.57 L125.00,423.44 L126.05,423.32 L127.10,423.19 L128.15,423.07 L129.21,422.95 L130.26,422.82 L131.31,422.70 L132.37,422.57 L133.42,422.45 L134.47,422.32 L135.53,422.20 L136.58,422.07 L137.63,421.94 L138.68,421.82 L139.74,421.69 L140.79,421.57 L141.84,421.44 L142.90,421.31 L143.95,421.19 L145.00,421.06 L146.06,420.93 L147.11,420.81 L148.16,420.68 L149.21,420.55 L150.27,420.42 L151.32,420.29 L152.37,420.17 L153.43,420.04 L154.48,419.91 L155.53,419.78 L156.59,419.65 L157.64,419.52 L158.69,419.39 L159.74,419.27 L160.80,419.14 L161.85,419.01 L162.90,418.88 L163.96,418.75 L165.01,418.62 L166.06,418.49 L167.12,418.36 L168.17,418.23 L169.22,418.10 L170.27,417.96 L171.33,417.83 L172.38,417.70 L173.43,417.57 L174.49,417.44 L175.54,417.31 L176.59,417.18 L177.64,417.04 L178.70,416.91 L179.75,416.78 L180.80,416.65 L181.86,416.51 L182.91,416.38 L183.96,416.25 L185.02,416.11 L186.07,415.98 L187.12,415.85 L188.18,415.71 L189.23,415.58 L190.28,415.45 L191.33,415.31 L192.39,415.18 L193.44,415.04 L194.49,414.91 L195.55,414.77 L196.60,414.64 L197.65,414.50 L198.70,414.37 L199.76,414.23 L200.81,414.10 L201.86,413.96 L202.92,413.83 L203.97,413.69 L205.02,413.55 L206.08,413.42 L207.13,413.28 L208.18,413.14 L209.24,413.01 L210.29,412.87 L211.34,412.73 L212.39,412.59 L213.45,412.46 L214.50,412.32 L215.55,412.18 L216.61,412.04 L217.66,411.90 L218.71,411.77 L219.76,411.63 L220.82,411.49 L221.87,411.35 L222.92,411.21 L223.98,411.07 L225.03,410.93 L226.08,410.79 L227.14,410.65 L228.19,410.51 L229.24,410.37 L230.30,410.23 L231.35,410.09 L232.40,409.95 L233.45,409.81 L234.51,409.67 L235.56,409.53 L236.61,409.39 L237.67,409.25 L238.72,409.10 L239.77,408.96 L240.82,408.82 L241.88,408.68 L242.93,408.54 L243.98,408.39 L245.04,408.25 L246.09,408.11 L247.14,407.96 L248.20,407.82 L249.25,407.68 L250.30,407.54 L251.36,407.39 L252.41,407.25 L253.46,407.10 L254.51,406.96 L255.57,406.82 L256.62,406.67 L257.67,406.53 L258.73,406.38 L259.78,406.24 L260.83,406.09 L261.88,405.95 L262.94,405.80 L263.99,405.66 L265.04,405.51 L266.10,405.36 L267.15,405.22 L268.20,405.07 L269.26,404.93 L270.31,404.78 L271.36,404.63 L272.42,404.49 L273.47,404.34 L274.52,404.19 L275.57,404.04 L276.63,403.90 L277.68,403.75 L278.73,403.60 L279.79,403.45 L280.84,403.30 L281.89,403.16 L282.94,403.01 L284.00,402.86 L285.05,402.71 L286.10,402.56 L287.16,402.41 L288.21,402.26 L289.26,402.11 L290.32,401.96 L291.37,401.81 L292.42,401.66 L293.48,401.51 L294.53,401.36 L295.58,401.21 L296.63,401.06 L297.69,400.91 L298.74,400.76 L299.79,400.61 L300.85,400.46 L301.90,400.31 L302.95,400.15 L304.00,400.00 L305.06,399.85 L306.11,399.70 L307.16,399.55 L308.22,399.39 L309.27,399.24 L310.32,399.09 L311.38,398.93 L312.43,398.78 L313.48,398.63 L314.54,398.48 L315.59,398.32 L316.64,398.17 L317.69,398.01 L318.75,397.86 L319.80,397.71 L320.85,397.55 L321.91,397.40 L322.96,397.24 L324.01,397.09 L325.06,396.93 L326.12,396.78 L327.17,396.62 L328.22,396.46 L329.28,396.31 L330.33,396.15 L331.38,396.00 L332.44,395.84 L333.49,395.68 L334.54,395.53 L335.60,395.37 L336.65,395.21 L337.70,395.06 L338.75,394.90 L339.81,394.74 L340.86,394.58 L341.91,394.43 L342.97,394.27 L344.02,394.11 L345.07,393.95 L346.12,393.79 L347.18,393.64 L348.23,393.48 L349.28,393.32 L350.34,393.16 L351.39,393.00 L352.44,392.84 L353.50,392.68 L354.55,392.52 L355.60,392.36 L356.66,392.20 L357.71,392.04 L358.76,391.88 L359.81,391.72 L360.87,391.56 L361.92,391.40 L362.97,391.24 L364.03,391.08 L365.08,390.91 L366.13,390.75 L367.19,390.59 L368.24,390.43 L369.29,390.27 L370.34,390.10 L371.40,389.94 L372.45,389.78 L373.50,389.62 L374.56,389.45 L375.61,389.29 L376.66,389.13 L377.71,388.96 L378.77,388.80 L379.82,388.64 L380.87,388.47 L381.93,388.31 L382.98,388.15 L384.03,387.98 L385.09,387.82 L386.14,387.65 L387.19,387.49 L388.25,387.32 L389.30,387.16 L390.35,386.99 L391.40,386.83 L392.46,386.66 L393.51,386.49 L394.56,386.33 L395.62,386.16 L396.67,386.00 L397.72,385.83 L398.77,385.66 L399.83,385.50 L400.88,385.33 L401.93,385.16 L402.99,384.99 L404.04,384.83 L405.09,384.66 L406.15,384.49 L407.20,384.32 L408.25,384.15 L409.31,383.99 L410.36,383.82 L411.41,383.65 L412.46,383.48 L413.52,383.31 L414.57,383.14 L415.62,382.97 L416.68,382.80 L417.73,382.63 L418.78,382.46 L419.83,382.29 L420.89,382.12 L421.94,381.95 L422.99,381.78 L424.05,381.61 L425.10,381.44 L426.15,381.27 L427.21,381.10 L428.26,380.93 L429.31,380.76 L430.37,380.59 L431.42,380.41 L432.47,380.24 L433.52,380.07 L434.58,379.90 L435.63,379.72 L436.68,379.55 L437.74,379.38 L438.79,379.21 L439.84,379.03 L440.89,378.86 L441.95,378.69 L443.00,378.51 L444.05,378.34 L445.11,378.17 L446.16,377.99 L447.21,377.82 L448.27,377.64 L449.32,377.47 L450.37,377.29 L451.43,377.12 L452.48,376.94 L453.53,376.77 L454.58,376.59 L455.64,376.42 L456.69,376.24 L457.74,376.06 L458.80,375.89 L459.85,375.71 L460.90,375.54 L461.95,375.36 L463.01,375.18 L464.06,375.01 L465.11,374.83 L466.17,374.65 L467.22,374.47 L468.27,374.30 L469.33,374.12 L470.38,373.94 L471.43,373.76 L472.49,373.58 L473.54,373.41 L474.59,373.23 L475.64,373.05 L476.70,372.87 L477.75,372.69 L478.80,372.51 L479.86,372.33 L480.91,372.15 L481.96,371.97 L483.01,371.79 L484.07,371.61 L485.12,371.43 L486.17,371.25 L487.23,371.07 L488.28,370.89 L489.33,370.71 L490.39,370.53 L491.44,370.35 L492.49,370.17 L493.55,369.99 L494.60,369.80 L495.65,369.62 L496.70,369.44 L497.76,369.26 L498.81,369.08 L499.86,368.89 L500.92,368.71 L501.97,368.53 L503.02,368.34 L504.07,368.16 L505.13,367.98 L506.18,367.79 L507.23,367.61 L508.29,367.43 L509.34,367.24 L510.39,367.06 L511.45,366.87 L512.50,366.69 L513.55,366.51 L514.61,366.32 L515.66,366.14 L516.71,365.95 L517.76,365.76 L518.82,365.58 L519.87,365.39 L520.92,365.21 L521.98,365.02 L523.03,364.84 L524.08,364.65 L525.13,364.46 L526.19,364.28 L527.24,364.09 L528.29,363.90 L529.35,363.72 L530.40,363.53" stroke="#1a8060" stroke-width="1.45"/>
<path d="M109.20,417.14 L110.25,417.01 L111.31,416.89 L112.36,416.76 L113.41,416.63 L114.47,416.49 L115.52,416.36 L116.57,416.22 L117.62,416.08 L118.68,415.94 L119.73,415.79 L120.78,415.65 L121.84,415.50 L122.89,415.35 L123.94,415.20 L125.00,415.05 L126.05,414.89 L127.10,414.74 L128.15,414.58 L129.21,414.42 L130.26,414.26 L131.31,414.09 L132.37,413.93 L133.42,413.76 L134.47,413.59 L135.53,413.42 L136.58,413.25 L137.63,413.08 L138.68,412.91 L139.74,412.73 L140.79,412.56 L141.84,412.38 L142.90,412.20 L143.95,412.02 L145.00,411.84 L146.06,411.66 L147.11,411.48 L148.16,411.30 L149.21,411.11 L150.27,410.93 L151.32,410.74 L152.37,410.55 L153.43,410.37 L154.48,410.18 L155.53,409.99 L156.59,409.80 L157.64,409.61 L158.69,409.42 L159.74,409.23 L160.80,409.03 L161.85,408.84 L162.90,408.65 L163.96,408.45 L165.01,408.26 L166.06,408.07 L167.12,407.87 L168.17,407.68 L169.22,407.48 L170.27,407.29 L171.33,407.09 L172.38,406.90 L173.43,406.70 L174.49,406.51 L175.54,406.31 L176.59,406.11 L177.64,405.92 L178.70,405.72 L179.75,405.53 L180.80,405.33 L181.86,405.14 L182.91,404.94 L183.96,404.75 L185.02,404.55 L186.07,404.36 L187.12,404.16 L188.18,403.96 L189.23,403.77 L190.28,403.57 L191.33,403.37 L192.39,403.16 L193.44,402.96 L194.49,402.76 L195.55,402.55 L196.60,402.34 L197.65,402.13 L198.70,401.92 L199.76,401.70 L200.81,401.48 L201.86,401.26 L202.92,401.04 L203.97,400.81 L205.02,400.58 L206.08,400.35 L207.13,400.12 L208.18,399.88 L209.24,399.64 L210.29,399.39 L211.34,399.14 L212.39,398.88 L213.45,398.63 L214.50,398.36 L215.55,398.10 L216.61,397.82 L217.66,397.55 L218.71,397.27 L219.76,396.98 L220.82,396.69 L221.87,396.39 L222.92,396.09 L223.98,395.78 L225.03,395.47 L226.08,395.15 L227.14,394.83 L228.19,394.51 L229.24,394.18 L230.30,393.85 L231.35,393.51 L232.40,393.17 L233.45,392.83 L234.51,392.48 L235.56,392.13 L236.61,391.78 L237.67,391.42 L238.72,391.07 L239.77,390.70 L240.82,390.34 L241.88,389.97 L242.93,389.61 L243.98,389.24 L245.04,388.86 L246.09,388.49 L247.14,388.11 L248.20,387.74 L249.25,387.36 L250.30,386.98 L251.36,386.60 L252.41,386.22 L253.46,385.83 L254.51,385.45 L255.57,385.07 L256.62,384.68 L257.67,384.30 L258.73,383.92 L259.78,383.53 L260.83,383.15 L261.88,382.76 L262.94,382.38 L263.99,382.00 L265.04,381.61 L266.10,381.23 L267.15,380.85 L268.20,380.46 L269.26,380.08 L270.31,379.70 L271.36,379.32 L272.42,378.93 L273.47,378.55 L274.52,378.17 L275.57,377.79 L276.63,377.40 L277.68,377.02 L278.73,376.64 L279.79,376.26 L280.84,375.88 L281.89,375.50 L282.94,375.12 L284.00,374.74 L285.05,374.36 L286.10,373.98 L287.16,373.60 L288.21,373.21 L289.26,372.83 L290.32,372.44 L291.37,372.06 L292.42,371.67 L293.48,371.27 L294.53,370.88 L295.58,370.48 L296.63,370.08 L297.69,369.68 L298.74,369.27 L299.79,368.86 L300.85,368.44 L301.90,368.01 L302.95,367.58 L304.00,367.12 L305.06,366.65 L306.11,366.15 L307.16,365.63 L308.22,365.08 L309.27,364.49 L310.32,363.86 L311.38,363.19 L312.43,362.48 L313.48,361.72 L314.54,360.91 L315.59,360.06 L316.64,359.15 L317.69,358.18 L318.75,357.16 L319.80,356.09 L320.85,354.95 L321.91,353.75 L322.96,352.47 L324.01,351.09 L325.06,349.62 L326.12,348.02 L327.17,346.31 L328.22,344.45 L329.28,342.45 L330.33,340.29 L331.38,337.99 L332.44,335.56 L333.49,333.02 L334.54,330.40 L335.60,327.72 L336.65,324.99 L337.70,322.23 L338.75,319.47 L339.81,316.73 L340.86,314.02 L341.91,311.36 L342.97,308.77 L344.02,306.27 L345.07,303.87 L346.12,301.59 L347.18,299.46 L348.23,297.47 L349.28,295.62 L350.34,293.88 L351.39,292.21 L352.44,290.59 L353.50,288.99 L354.55,287.38 L355.60,285.78 L356.66,284.20 L357.71,282.68 L358.76,281.25 L359.81,279.94 L360.87,278.74 L361.92,277.65 L362.97,276.66 L364.03,275.75 L365.08,274.93 L366.13,274.18 L367.19,273.51 L368.24,272.89 L369.29,272.34 L370.34,271.86 L371.40,271.42 L372.45,271.04 L373.50,270.71 L374.56,270.43 L375.61,270.19 L376.66,270.00 L377.71,269.85 L378.77,269.73 L379.82,269.65 L380.87,269.61 L381.93,269.60 L382.98,269.61 L384.03,269.65 L385.09,269.71 L386.14,269.79 L387.19,269.89 L388.25,269.99 L389.30,270.10 L390.35,270.22 L391.40,270.33 L392.46,270.45 L393.51,270.55 L394.56,270.65 L395.62,270.73 L396.67,270.79 L397.72,270.83 L398.77,270.85 L399.83,270.84 L400.88,270.80 L401.93,270.72 L402.99,270.61 L404.04,270.47 L405.09,270.31 L406.15,270.12 L407.20,269.90 L408.25,269.67 L409.31,269.41 L410.36,269.14 L411.41,268.85 L412.46,268.55 L413.52,268.25 L414.57,267.93 L415.62,267.60 L416.68,267.28 L417.73,266.95 L418.78,266.62 L419.83,266.29 L420.89,265.97 L421.94,265.66 L422.99,265.35 L424.05,265.05 L425.10,264.76 L426.15,264.48 L427.21,264.20 L428.26,263.93 L429.31,263.67 L430.37,263.41 L431.42,263.15 L432.47,262.90 L433.52,262.66 L434.58,262.41 L435.63,262.18 L436.68,261.94 L437.74,261.71 L438.79,261.47 L439.84,261.24 L440.89,261.02 L441.95,260.79 L443.00,260.56 L444.05,260.33 L445.11,260.10 L446.16,259.87 L447.21,259.64 L448.27,259.40 L449.32,259.17 L450.37,258.93 L451.43,258.69 L452.48,258.44 L453.53,258.19 L454.58,257.94 L455.64,257.69 L456.69,257.43 L457.74,257.17 L458.80,256.91 L459.85,256.65 L460.90,256.38 L461.95,256.11 L463.01,255.84 L464.06,255.57 L465.11,255.29 L466.17,255.02 L467.22,254.74 L468.27,254.46 L469.33,254.18 L470.38,253.90 L471.43,253.61 L472.49,253.33 L473.54,253.04 L474.59,252.76 L475.64,252.47 L476.70,252.18 L477.75,251.89 L478.80,251.60 L479.86,251.31 L480.91,251.02 L481.96,250.73 L483.01,250.44 L484.07,250.15 L485.12,249.86 L486.17,249.57 L487.23,249.27 L488.28,248.98 L489.33,248.69 L490.39,248.40 L491.44,248.11 L492.49,247.83 L493.55,247.54 L494.60,247.25 L495.65,246.96 L496.70,246.68 L497.76,246.39 L498.81,246.11 L499.86,245.83 L500.92,245.55 L501.97,245.27 L503.02,244.99 L504.07,244.72 L505.13,244.44 L506.18,244.17 L507.23,243.90 L508.29,243.64 L509.34,243.37 L510.39,243.11 L511.45,242.85 L512.50,242.59 L513.55,242.33 L514.61,242.08 L515.66,241.83 L516.71,241.58 L517.76,241.34 L518.82,241.10 L519.87,240.86 L520.92,240.63 L521.98,240.39 L523.03,240.17 L524.08,239.94 L525.13,239.72 L526.19,239.50 L527.24,239.29 L528.29,239.08 L529.35,238.88 L530.40,238.68" stroke="#c82852" stroke-width="1.45"/>
</g>
<path d="M548.5,181.5 H670 M548.5,181.5 V418.5 H670" fill="none" stroke="#8a8a8a" stroke-width="1"/>
<line x1="554" y1="189.50" x2="585.5" y2="189.50" stroke="#a0a0a0" stroke-width="2.0"/>
<text x="593" y="197.80" style="font-size:14.2px" textLength="48.8" lengthAdjust="spacingAndGlyphs">Sucrose</text>
<line x1="554" y1="210.50" x2="585.5" y2="210.50" stroke="#55226a" stroke-width="2.0"/>
<text x="593" y="218.10" style="font-size:14.2px" textLength="49.7" lengthAdjust="spacingAndGlyphs">NH<tspan font-size='10' dy='3.5'>4</tspan><tspan dy='-3.5'>NO</tspan><tspan font-size='10' dy='3.5'>3</tspan></text>
<line x1="554" y1="231.80" x2="585.5" y2="231.80" stroke="#727272" stroke-width="1.6"/>
<text x="593" y="239.00" style="font-size:14.2px" textLength="48.9" lengthAdjust="spacingAndGlyphs">Glucose</text>
<line x1="554" y1="252.10" x2="585.5" y2="252.10" stroke="#6e9a64" stroke-width="1.5"/>
<text x="593" y="259.80" style="font-size:14.2px" textLength="32.7" lengthAdjust="spacingAndGlyphs">CaCl<tspan font-size='10' dy='3.5'>2</tspan></text>
<line x1="554" y1="273.10" x2="585.5" y2="273.10" stroke="#2a3070" stroke-width="1.8"/>
<text x="593" y="280.50" style="font-size:14.2px" textLength="20.6" lengthAdjust="spacingAndGlyphs">KBr</text>
<line x1="554" y1="294.20" x2="585.5" y2="294.20" stroke="#b03858" stroke-width="2.0"/>
<text x="593" y="301.60" style="font-size:14.2px" textLength="64.0" lengthAdjust="spacingAndGlyphs">CH<tspan font-size='10' dy='3.5'>3</tspan><tspan dy='-3.5'>CO</tspan><tspan font-size='10' dy='3.5'>2</tspan><tspan dy='-3.5'>Na</tspan></text>
<line x1="554" y1="317.00" x2="585.5" y2="317.00" stroke="#5ea694" stroke-width="1.8"/>
<text x="593" y="324.10" style="font-size:14.2px" textLength="36.3" lengthAdjust="spacingAndGlyphs">NH<tspan font-size='10' dy='3.5'>4</tspan><tspan dy='-3.5'>Cl</tspan></text>
<line x1="554" y1="339.60" x2="585.5" y2="339.60" stroke="#7a3040" stroke-width="1.8"/>
<text x="593" y="346.30" style="font-size:14.2px" textLength="27.8" lengthAdjust="spacingAndGlyphs">NaCl</text>
<line x1="554" y1="360.70" x2="585.5" y2="360.70" stroke="#205878" stroke-width="1.9"/>
<text x="593" y="367.70" style="font-size:14.2px" textLength="39.0" lengthAdjust="spacingAndGlyphs">Li<tspan font-size='10' dy='3.5'>2</tspan><tspan dy='-3.5'>SO</tspan><tspan font-size='10' dy='3.5'>4</tspan></text>
<line x1="554" y1="381.20" x2="585.5" y2="381.20" stroke="#e6d45a" stroke-width="1.6"/>
<text x="593" y="388.80" style="font-size:14.2px" textLength="45.8" lengthAdjust="spacingAndGlyphs">Na<tspan font-size='10' dy='3.5'>2</tspan><tspan dy='-3.5'>SO</tspan><tspan font-size='10' dy='3.5'>4</tspan></text>
<line x1="554" y1="402.20" x2="585.5" y2="402.20" stroke="#c08060" stroke-width="1.7"/>
<text x="593" y="409.80" style="font-size:14.2px" textLength="36.7" lengthAdjust="spacingAndGlyphs">K<tspan font-size='10' dy='3.5'>2</tspan><tspan dy='-3.5'>SO</tspan><tspan font-size='10' dy='3.5'>4</tspan></text>
</svg>
</body></html>
